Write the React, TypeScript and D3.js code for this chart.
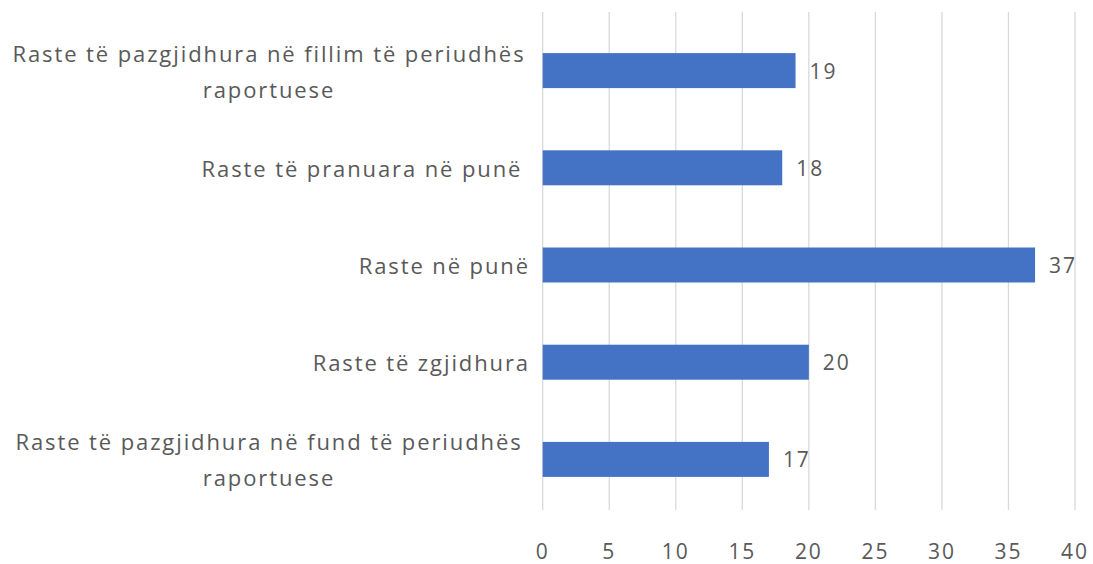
import React from "react";
import * as d3 from "d3";

const categoryLines: string[][] = [
  ["Raste të pazgjidhura në fillim të periudhës", "raportuese"],
  ["Raste të pranuara në punë "],
  ["Raste në punë"],
  ["Raste të zgjidhura"],
  ["Raste të pazgjidhura në fund të periudhës", "raportuese"],
];
const categoryKeys: string[] = ["c1", "c2", "c3", "c4", "c5"];
const values: number[] = [19, 18, 37, 20, 17];
const xTicks: number[] = [0, 5, 10, 15, 20, 25, 30, 35, 40];

const W = 1093;
const H = 564;
const FONT = "'Open Sans', sans-serif";
const TEXT = "#595959";
const LS = 1.9;

export default function App() {
  const x = d3.scaleLinear().domain([0, 40]).range([542.7, 1075]);
  const y = d3.scaleBand<string>().domain(categoryKeys).range([22, 508]).paddingInner(0.64).paddingOuter(0.32);
  const gridTop = 12;
  const gridBottom = 510;

  return (
    <div style={{ position: "absolute", left: 0, top: 0 }}>
      <svg width={W} height={H} style={{ display: "block", background: "#fff" }}>
        <g>
          {xTicks.map((t) => (
            <line key={t} x1={x(t)} x2={x(t)} y1={gridTop} y2={gridBottom} stroke="#d9d9d9" strokeWidth={1.3} />
          ))}
        </g>
        <g>
          {values.map((v, i) => (
            <rect key={i} x={x(0)} y={y(categoryKeys[i])!} width={x(v) - x(0)} height={y.bandwidth()} fill="#4472c4" />
          ))}
        </g>
        <g fontFamily={FONT} fontSize={21} fill={TEXT} letterSpacing={LS}>
          {values.map((v, i) => (
            <text key={i} x={x(v) + 14} y={y(categoryKeys[i])! + y.bandwidth() / 2} dominantBaseline="central">
              {v}
            </text>
          ))}
        </g>
        <g fontFamily={FONT} fontSize={22} fill={TEXT} letterSpacing={LS}>
          {categoryLines.map((lines, i) => {
            const cy = y(categoryKeys[i])! + y.bandwidth() / 2;
            if (lines.length === 1) {
              return (
                <text key={i} x={530} y={cy} textAnchor="end" dominantBaseline="central" style={{ whiteSpace: "pre" }}>
                  {lines[0]}
                </text>
              );
            }
            return (
              <text key={i} x={269} textAnchor="middle" dominantBaseline="central">
                {lines.map((l, j) => (
                  <tspan key={j} x={269} y={cy + (j - (lines.length - 1) / 2) * 36}>
                    {l}
                  </tspan>
                ))}
              </text>
            );
          })}
        </g>
        <g fontFamily={FONT} fontSize={21} fill={TEXT} letterSpacing={LS}>
          {xTicks.map((t) => (
            <text key={t} x={x(t)} y={551} textAnchor="middle" dominantBaseline="central">
              {t}
            </text>
          ))}
        </g>
      </svg>
    </div>
  );
}
